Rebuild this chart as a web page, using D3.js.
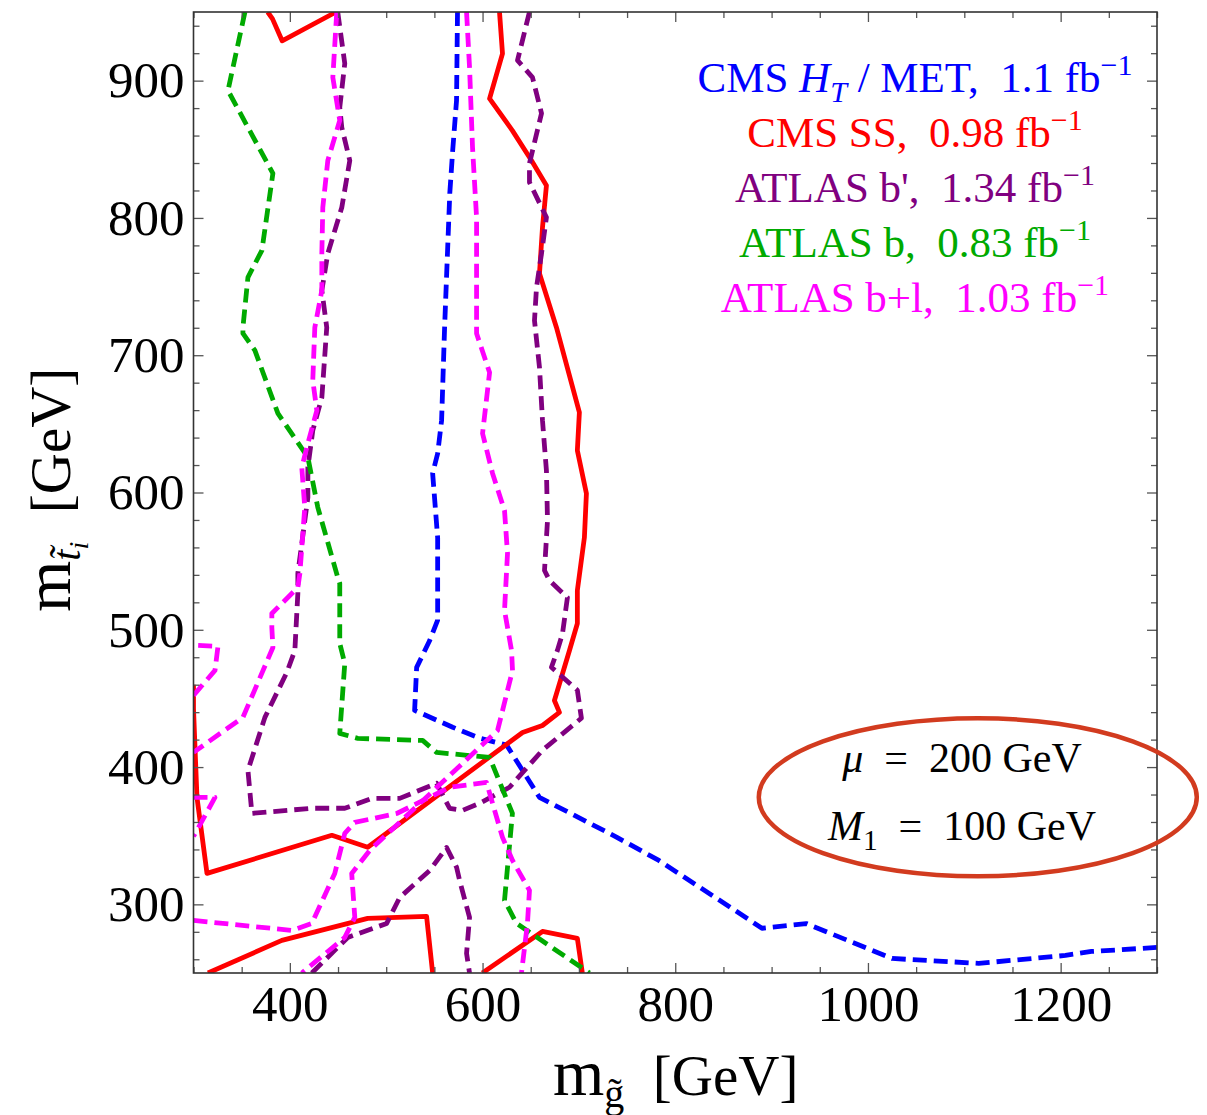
<!DOCTYPE html>
<html>
<head>
<meta charset="utf-8">
<script src="https://cdn.jsdelivr.net/npm/d3@7"></script>
<style>
  body { margin: 0; background: #fff; }
  text { font-family: "Liberation Serif", "Times New Roman", serif; }
</style>
</head>
<body>
<svg id="chart" width="1207" height="1115"></svg>
<script>
// Exclusion contours in the (gluino mass, stop mass) plane, values in GeV: [m_gluino, m_stop]

// CMS H_T / MET, 1.1 fb^-1
const cmsHtMet = [
  [574,950],[573,885.5],[569,849],[566,818],[560.6,720],[557.5,652.5],[553.4,628.4],[548.2,614],
  [553.4,567],[553.4,507],[545,492],[531.6,472.6],[529.5,441.3],[569,429],[597,421],[625,416],
  [659,378],[739,349],[783,332],[846,303],[890,282.6],[936,286],[1025,260.6],[1115,257],
  [1205,262.8],[1232,265.7],[1300,268.6]
];

// CMS same-sign dileptons, 0.98 fb^-1
const cmsSsTop = [[377,950],[382,945],[392,929],[448,950]];
const cmsSsMain = [
  [617.6,950],[620.7,919.7],[607.3,886.9],[631,863.6],[650.8,841.8],[666.3,823.6],[662.2,793],
  [659.1,759.5],[676.7,720.2],[700.5,658.3],[698.4,630.6],[707.8,599.3],[705.7,567.2],[698.4,528.6],
  [698.4,504.6],[690.2,484.9],[674.6,448.5],[679.8,439.8],[662.2,430.3],[641.5,425.2],[480.8,341.6],
  [443.6,350.3],[314,322.6],[303.6,377.9],[300,442.6],[300,460]
];
const cmsSsLow = [[315,250],[391.7,273.8],[480.8,289.8],[541.9,291.3],[548.2,250]];
const cmsSsLowRight = [[599.8,250],[662.2,280.3],[698.4,275.2],[703.6,250]];

// ATLAS b', 1.34 fb^-1
const atlasBprimeMain = [
  [449.7,950],[457,912.5],[451.8,880.5],[453.9,865.9],[462.2,841.8],[453.9,807.6],[439.4,774.1],
  [433.2,747.2],[438.3,720.2],[433.2,669.2],[423.8,645.2],[418.7,618.3],[418.7,596.4],[408.3,541.1],
  [408.3,526.5],[405.2,485],[396.9,469],[374.1,436.2],[356.5,397.6],[360.6,366.3],[422.8,370],
  [457,370],[485,377.2],[514,377.2],[552.3,388.2],[565.8,370],[579.3,368.5],[596.9,373.6],
  [628,385.3],[662.2,412.3],[702.6,435.6],[698.4,456],[671.5,472.7],[677.7,485],[683,497.3],
  [688.1,523.5],[669.5,535.9],[664.3,543.2],[667.4,579.6],[666.3,616],[662.2,652.5],[659.1,691.1],
  [653.9,725.3],[656,749.4],[661.2,774.1],[666.3,800.4],[648.7,825.9],[648.7,839.8],[661.2,876.2],
  [651.8,902.4],[636.3,914.8],[648.7,950]
];
const atlasBprimeLow = [
  [422.8,250],[460.1,275.9],[500.5,286.1],[514,305],[545.1,324.7],[562.7,341.4],[573.1,326.9],
  [576.2,317.4],[586.5,290.5],[583.4,264.3],[586.5,250]
];

// ATLAS b, 0.83 fb^-1
const atlasB = [
  [353.4,950],[335.8,892.8],[382.4,832.4],[371,776.4],[356.5,756.7],[351.3,720.3],[351.3,715.9],
  [363.7,703.5],[387.6,657.6],[394.8,650.3],[418.7,625.6],[429,589.2],[449.7,538.2],[451.8,533.8],
  [451.8,490.1],[457,475.5],[451.8,424.5],[470.5,420.9],[537.8,419.4],[552.3,410.7],[607.3,407],
  [631,366.3],[622.8,302.9],[635.2,286.2],[711,250]
];

// ATLAS b+l, 1.03 fb^-1
const atlasBlLeft = [
  [448.7,950],[444.6,902.3],[451.8,871],[439.4,841.8],[434.2,807.6],[433.2,774.1],[433.2,747.2],
  [425.9,720.2],[423.8,681.6],[428,659.7],[417.6,632.8],[412.4,618.2],[415.5,589.1],[410.4,541],
  [408.3,530.8],[381.3,511.9],[381.3,501.7],[382.4,487.1],[351.3,436.2],[300,410.7]
];
const atlasBlHookUpper = [[300,452.2],[322.3,470.4],[325.4,487.9],[304.7,488.6],[300,488.8]];
const atlasBlHookLower = [[300,377.9],[322.3,377.9],[303.6,353.9],[300,349.6]];
const atlasBlLow = [
  [300,288.3],[402.1,281],[422.8,286.1],[446.6,322.5],[457,351.7],[467.4,359.7],[510.9,366.2],
  [565.8,385.2],[604.1,388.8],[620.7,348.8],[631.1,332],[648.7,310.2],[646.6,286.1],[640.4,250]
];
const atlasBlRight = [
  [583.4,950],[586.5,909.6],[589.6,851.3],[593.8,800.3],[593.8,715.8],[607.3,687.4],[600,643],
  [610.4,613.9],[622.8,586.9],[625.9,555.6],[622.8,514.1],[630.1,484.9],[631.1,470.4],[615.6,426.7],
  [482.9,339.3],[464.2,322.5],[467.4,290.5],[457,275.9],[412.4,250]
];

// Axis ranges and ticks
const xDomain = [300, 1300];
const yDomain = [250, 950];
const xTickValues = [400, 600, 800, 1000, 1200];
const yTickValues = [300, 400, 500, 600, 700, 800, 900];
const xMinorStep = 50;
const yMinorStep = 20;

// Benchmark parameters shown inside the ellipse
const benchmarkLines = [
  [["μ", "it"], ["  =  200 GeV"]],
  [["M", "it"], ["1", "sub"], ["  =  100 GeV"]]
];

// Legend entries
const legendEntries = [
  { color: "#0000ff", parts: [["CMS "], ["H", "it"], ["T", "itsub"], [" / MET,  1.1 fb"], ["−1", "sup"]] },
  { color: "#ff0000", parts: [["CMS SS,  0.98 fb"], ["−1", "sup"]] },
  { color: "#800080", parts: [["ATLAS b',  1.34 fb"], ["−1", "sup"]] },
  { color: "#00aa00", parts: [["ATLAS b,  0.83 fb"], ["−1", "sup"]] },
  { color: "#ff00ff", parts: [["ATLAS b+l,  1.03 fb"], ["−1", "sup"]] }
];

// ---------------------------------------------------------------------------
const W = 1207, H = 1115;
const plot = { left: 193.5, right: 1157, top: 12, bottom: 973 };

const x = d3.scaleLinear().domain(xDomain).range([plot.left, plot.right]);
const y = d3.scaleLinear().domain(yDomain).range([plot.bottom, plot.top]);

const svg = d3.select("#chart");
svg.append("rect").attr("width", W).attr("height", H).attr("fill", "#fff");

svg.append("defs").append("clipPath").attr("id", "plotclip")
  .append("rect")
  .attr("x", plot.left).attr("y", plot.top)
  .attr("width", plot.right - plot.left).attr("height", plot.bottom - plot.top);

// Contours
const curves = [
  { color: "#0000ff", dashed: true,  paths: [cmsHtMet] },
  { color: "#ff0000", dashed: false, paths: [cmsSsTop, cmsSsMain, cmsSsLow, cmsSsLowRight] },
  { color: "#800080", dashed: true,  paths: [atlasBprimeMain, atlasBprimeLow] },
  { color: "#00aa00", dashed: true,  paths: [atlasB] },
  { color: "#ff00ff", dashed: true,  paths: [atlasBlLeft, atlasBlHookUpper, atlasBlHookLower, atlasBlLow, atlasBlRight] }
];

const line = d3.line().x(d => x(d[0])).y(d => y(d[1]));
const gCurves = svg.append("g").attr("clip-path", "url(#plotclip)");
curves.forEach(c => {
  c.paths.forEach(p => {
    gCurves.append("path")
      .attr("d", line(p))
      .attr("fill", "none")
      .attr("stroke", c.color)
      .attr("stroke-width", 4.8)
      .attr("stroke-linejoin", "round")
      .attr("stroke-dasharray", c.dashed ? "14 7" : null);
  });
});

// Frame ticks (inward, on all four sides)
const xMinor = d3.range(xDomain[0], xDomain[1] + 1, xMinorStep).filter(v => !xTickValues.includes(v));
const yMinor = d3.range(260, yDomain[1], yMinorStep).filter(v => !yTickValues.includes(v));

function drawAxis(axis, tx, ty) {
  const g = svg.append("g").attr("transform", `translate(${tx},${ty})`).call(axis);
  g.select(".domain").remove();
  g.selectAll(".tick line").attr("stroke", "#555").attr("stroke-width", 1.3);
  g.selectAll("text")
    .attr("fill", "#000")
    .style("font-family", '"Liberation Serif", serif')
    .style("font-size", "51px");
  return g;
}

drawAxis(d3.axisBottom(x).tickValues(xTickValues).tickSize(-10).tickPadding(12).tickFormat(d3.format("d")), 0, plot.bottom);
drawAxis(d3.axisBottom(x).tickValues(xMinor).tickSize(-6).tickFormat(""), 0, plot.bottom);
drawAxis(d3.axisTop(x).tickValues(xTickValues).tickSize(-10).tickFormat(""), 0, plot.top);
drawAxis(d3.axisTop(x).tickValues(xMinor).tickSize(-6).tickFormat(""), 0, plot.top);

drawAxis(d3.axisLeft(y).tickValues(yTickValues).tickSize(-10).tickPadding(9).tickFormat(d3.format("d")), plot.left, 0);
drawAxis(d3.axisLeft(y).tickValues(yMinor).tickSize(-6).tickFormat(""), plot.left, 0);
drawAxis(d3.axisRight(y).tickValues(yTickValues).tickSize(-10).tickFormat(""), plot.right, 0);
drawAxis(d3.axisRight(y).tickValues(yMinor).tickSize(-6).tickFormat(""), plot.right, 0);

// Frame
svg.append("rect")
  .attr("x", plot.left).attr("y", plot.top)
  .attr("width", plot.right - plot.left).attr("height", plot.bottom - plot.top)
  .attr("fill", "none").attr("stroke", "#333").attr("stroke-width", 1.6);

// Rich text helper: parts are [text, style]
function addParts(textSel, parts, size) {
  let shift = 0;
  parts.forEach(([t, kind]) => {
    let target = 0, fs = size, italic = false;
    if (kind === "it") italic = true;
    if (kind === "sub" || kind === "itsub") { target = size * 0.24; fs = size * 0.7; italic = kind === "itsub"; }
    if (kind === "sup") { target = -size * 0.4; fs = size * 0.7; }
    textSel.append("tspan")
      .attr("dy", target - shift)
      .style("font-size", fs + "px")
      .style("font-style", italic ? "italic" : "normal")
      .text(t);
    shift = target;
  });
}

// Legend
const legendX = 915, legendY0 = 92, legendStep = 55;
legendEntries.forEach((e, i) => {
  const t = svg.append("text")
    .attr("x", legendX).attr("y", legendY0 + i * legendStep)
    .attr("text-anchor", "middle")
    .attr("fill", e.color)
    .style("white-space", "pre")
    .style("font-size", "43px");
  addParts(t, e.parts, 43);
});

// Benchmark ellipse and its labels
const ellipseCenter = [1114, 378];
svg.append("ellipse")
  .attr("cx", x(ellipseCenter[0])).attr("cy", y(ellipseCenter[1]))
  .attr("rx", 219).attr("ry", 79)
  .attr("fill", "none").attr("stroke", "#d23b1f").attr("stroke-width", 4.5);

benchmarkLines.forEach((parts, i) => {
  const t = svg.append("text")
    .attr("x", 962).attr("y", 772 + i * 68)
    .attr("text-anchor", "middle")
    .attr("fill", "#000")
    .style("white-space", "pre")
    .style("font-size", "42px");
  addParts(t, parts, 42);
});

// Axis titles
const xTitle = svg.append("text")
  .attr("x", 553).attr("y", 1095)
  .attr("fill", "#000")
  .style("white-space", "pre")
  .style("font-size", "57px");
xTitle.append("tspan").style("font-size", "66px").text("m");
xTitle.append("tspan").attr("dy", 12).style("font-size", "40px").text("g\u0303");
xTitle.append("tspan").attr("dy", -12).text("  [GeV]");

const yTitle = svg.append("text")
  .attr("transform", "translate(70,612) rotate(-90)")
  .attr("fill", "#000")
  .style("white-space", "pre")
  .style("font-size", "57px");
yTitle.append("tspan").style("font-size", "66px").text("m");
yTitle.append("tspan").attr("dy", 10).style("font-size", "40px").style("font-style", "italic").text("t\u0303");
yTitle.append("tspan").attr("dy", 8).style("font-size", "28px").style("font-style", "italic").text("i");
yTitle.append("tspan").attr("dy", -18).style("font-style", "normal").text("  [GeV]");
</script>
</body>
</html>
